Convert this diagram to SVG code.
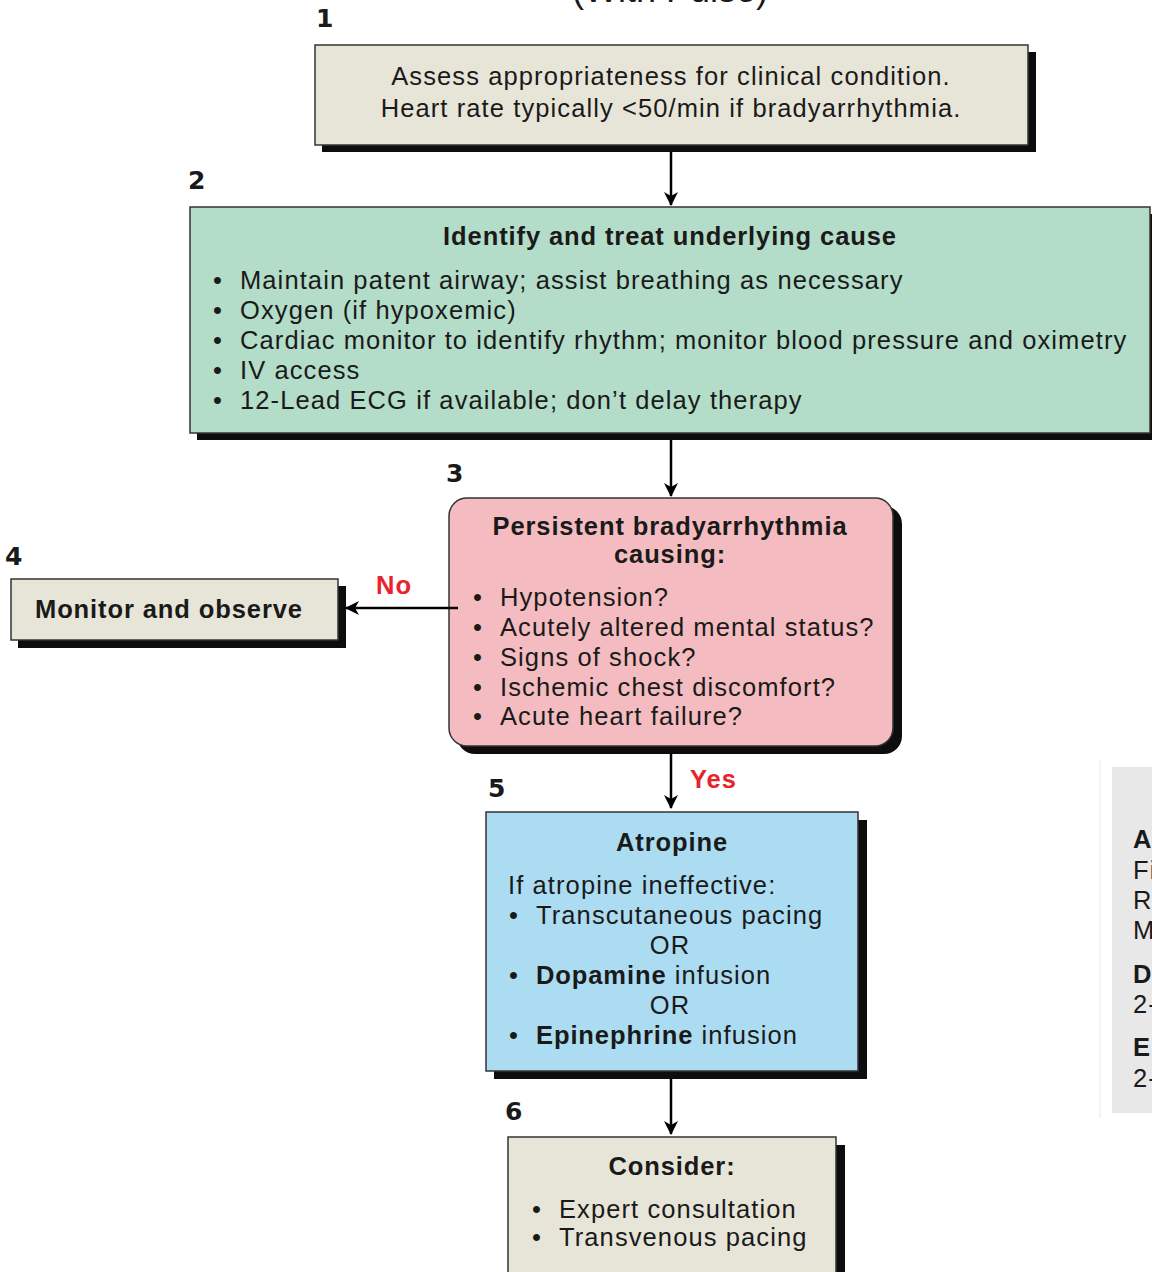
<svg xmlns="http://www.w3.org/2000/svg" width="1152" height="1272" viewBox="0 0 1152 1272">
<defs>
<style>
text{font-family:"Liberation Sans",Arial,sans-serif;fill:#1a1a1a}
.b{font-weight:bold}
.t{font-size:25.5px;letter-spacing:1.1px}
.h{font-size:25.5px;font-weight:bold;letter-spacing:0.9px}
.n{font-size:25px;font-weight:900;font-family:"DejaVu Sans","Liberation Sans",sans-serif}
.red{fill:#e8232a;font-weight:bold;font-size:25.5px;letter-spacing:1px}
.sh{fill:#0d0d0d}
.bx{stroke:#333;stroke-width:1.5}
.beige{fill:#e7e5d8}
.conn{stroke:#000;stroke-width:2.5;fill:none}
.c{text-anchor:middle}
</style>
<marker id="ah" viewBox="0 0 14 14" refX="13" refY="7" markerWidth="14" markerHeight="14" markerUnits="userSpaceOnUse" orient="auto">
<path d="M0,0 L14,7 L0,14 L4,7 Z" fill="#000"/>
</marker>
</defs>
<rect width="1152" height="1272" fill="#fff"/>
<text x="670" y="2" class="c" style="font-size:36px">(With Pulse)</text>

<g id="node1">
<rect x="322" y="52" width="714" height="100" class="sh"/>
<rect x="315" y="45" width="713" height="100" class="beige bx"/>
<text x="316" y="27" class="n">1</text>
<text x="671" y="85" class="t c">Assess appropriateness for clinical condition.</text>
<text x="671" y="117" class="t c">Heart rate typically &lt;50/min if bradyarrhythmia.</text>
</g>

<g id="node2">
<rect x="197" y="214" width="962" height="226" class="sh"/>
<rect x="190" y="207" width="960" height="226" fill="#b3dcc9" class="bx"/>
<text x="188" y="189" class="n">2</text>
<text x="670" y="245" class="h c">Identify and treat underlying cause</text>
<g class="t">
<text x="213" y="289">•</text><text x="240" y="289">Maintain patent airway; assist breathing as necessary</text>
<text x="213" y="319">•</text><text x="240" y="319">Oxygen (if hypoxemic)</text>
<text x="213" y="349">•</text><text x="240" y="349">Cardiac monitor to identify rhythm; monitor blood pressure and oximetry</text>
<text x="213" y="379">•</text><text x="240" y="379">IV access</text>
<text x="213" y="409">•</text><text x="240" y="409">12-Lead ECG if available; don’t delay therapy</text>
</g>
</g>

<g id="node3">
<rect x="457" y="506" width="445" height="248" rx="18" class="sh"/>
<rect x="449" y="498" width="444" height="248" rx="18" fill="#f4bcc0" class="bx"/>
<text x="446" y="482" class="n">3</text>
<text x="670" y="535" class="h c">Persistent bradyarrhythmia</text>
<text x="670" y="563" class="h c">causing:</text>
<g class="t">
<text x="473" y="606">•</text><text x="500" y="606">Hypotension?</text>
<text x="473" y="636">•</text><text x="500" y="636">Acutely altered mental status?</text>
<text x="473" y="666">•</text><text x="500" y="666">Signs of shock?</text>
<text x="473" y="696">•</text><text x="500" y="696">Ischemic chest discomfort?</text>
<text x="473" y="725">•</text><text x="500" y="725">Acute heart failure?</text>
</g>
</g>

<g id="node4">
<rect x="18" y="586" width="328" height="62" class="sh"/>
<rect x="11" y="579" width="327" height="61" class="beige bx"/>
<text x="5" y="565" class="n">4</text>
<text x="35" y="618" class="h">Monitor and observe</text>
</g>

<g id="node5">
<rect x="494" y="820" width="373" height="259" class="sh"/>
<rect x="486" y="812" width="372" height="259" fill="#acdcf2" class="bx"/>
<text x="488" y="797" class="n">5</text>
<text x="672" y="851" class="h c">Atropine</text>
<g class="t">
<text x="508" y="894">If atropine ineffective:</text>
<text x="509" y="924">•</text><text x="536" y="924">Transcutaneous pacing</text>
<text x="670" y="954" class="c">OR</text>
<text x="509" y="984">•</text><text x="536" y="984"><tspan class="b" style="letter-spacing:0.9px">Dopamine</tspan> infusion</text>
<text x="670" y="1014" class="c">OR</text>
<text x="509" y="1044">•</text><text x="536" y="1044"><tspan class="b" style="letter-spacing:0.9px">Epinephrine</tspan> infusion</text>
</g>
</g>

<g id="node6">
<rect x="516" y="1145" width="329" height="140" class="sh"/>
<rect x="508" y="1137" width="328" height="140" class="beige bx"/>
<text x="505" y="1120" class="n">6</text>
<text x="672" y="1175" class="h c">Consider:</text>
<g class="t">
<text x="532" y="1218">•</text><text x="559" y="1218">Expert consultation</text>
<text x="532" y="1246">•</text><text x="559" y="1246">Transvenous pacing</text>
</g>
</g>

<g id="panel">
<line x1="1100" y1="760" x2="1100" y2="1118" stroke="#f0f0f0" stroke-width="1.5"/>
<rect x="1112" y="767" width="45" height="346" fill="#e8e8e8"/>
<g class="t">
<text x="1133" y="848" class="b">Atropine IV Dose:</text>
<text x="1133" y="879">First dose: 0.5 mg bolus</text>
<text x="1133" y="909">Repeat every 3-5 minutes</text>
<text x="1133" y="939">Maximum: 3 mg</text>
<text x="1133" y="983" class="b">Dopamine IV infusion:</text>
<text x="1133" y="1013">2-10 mcg/kg per minute</text>
<text x="1133" y="1056" class="b">Epinephrine IV infusion:</text>
<text x="1133" y="1087">2-10 mcg per minute</text>
</g>
</g>

<g id="connectors">
<line x1="671" y1="152" x2="671" y2="205" class="conn" marker-end="url(#ah)"/>
<line x1="671" y1="440" x2="671" y2="496" class="conn" marker-end="url(#ah)"/>
<line x1="458" y1="608" x2="346" y2="608" class="conn" marker-end="url(#ah)"/>
<line x1="671" y1="754" x2="671" y2="808" class="conn" marker-end="url(#ah)"/>
<line x1="671" y1="1079" x2="671" y2="1134" class="conn" marker-end="url(#ah)"/>
<text x="376" y="594" class="red">No</text>
<text x="690" y="788" class="red">Yes</text>
</g>
</svg>
